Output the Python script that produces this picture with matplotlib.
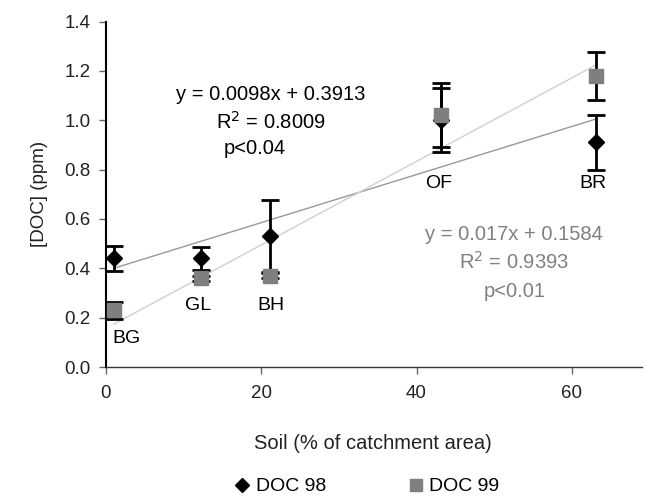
import numpy as np
import matplotlib.pyplot as plt

plt.rcParams['font.family'] = ['Liberation Sans', 'DejaVu Sans']

# Soil cover (% of catchment area) for each site
sites = ['BG', 'GL', 'BH', 'OF', 'BR']
soil = [1, 12.3, 21.1, 43.1, 63.1]

# DOC concentrations (ppm) and error bars
doc98 = [0.44, 0.44, 0.53, 1.00, 0.91]
err98 = [0.05, 0.045, 0.145, 0.13, 0.11]
doc99 = [0.23, 0.36, 0.37, 1.02, 1.18]
err99 = [0.035, 0.01, 0.01, 0.13, 0.097]

eq98 = "y = 0.0098x + 0.3913\nR$^2$ = 0.8009"
eq99 = "y = 0.017x + 0.1584\nR$^2$ = 0.9393"

fig = plt.figure(figsize=(6.45, 5), dpi=100)
ax = fig.add_axes([0.164, 0.266, 0.831, 0.691])

x = np.array(soil)

# trendlines (least squares through the points)
xs = np.array([x.min(), x.max()])
k98, b98 = np.polyfit(x, doc98, 1)
k99, b99 = np.polyfit(x, doc99, 1)
ax.plot(xs, k98 * xs + b98, color='#999999', lw=1, zorder=1)
ax.plot(xs, k99 * xs + b99, color='#d0d0d0', lw=1, zorder=1)

ax.errorbar(x, doc98, yerr=err98, fmt='D', color='black', ms=8,
            ecolor='black', elinewidth=2, capsize=6.5, capthick=2,
            zorder=3, label='DOC 98')
ax.errorbar(x, doc99, yerr=err99, fmt='s', color='#7f7f7f', ms=10,
            ecolor='black', elinewidth=2, capsize=6.5, capthick=2,
            zorder=4, label='DOC 99')

# site labels
lab_y = [0.116, 0.25, 0.25, 0.742, 0.742]
lab_dx = [1.7, -0.4, 0.2, -0.2, -0.4]
for s, xi, yi, dx in zip(sites, soil, lab_y, lab_dx):
    ax.text(xi + dx, yi, s, ha='center', va='center', fontsize=14)

ax.text(21.2, 1.046, eq98, ha='center', va='center', fontsize=14.5,
        linespacing=1.35)
ax.text(19.2, 0.886, 'p<0.04', ha='center', va='center', fontsize=14.5)
ax.text(52.6, 0.478, eq99, ha='center', va='center', fontsize=14.5,
        color='#808080', linespacing=1.35)
ax.text(52.6, 0.305, 'p<0.01', ha='center', va='center', fontsize=14.5,
        color='#808080')

ax.set_xlim(0, 69)
ax.set_ylim(0, 1.4)
ax.set_xticks([0, 20, 40, 60])
ax.set_yticks(np.arange(0, 1.41, 0.2))
ax.set_yticklabels(['%.1f' % v for v in np.arange(0, 1.41, 0.2)])
ax.tick_params(labelsize=13.5, length=5, color='#666666', width=1,
               labelcolor='#222222')
ax.tick_params(axis='y', pad=6)
ax.tick_params(axis='x', pad=8)
ax.spines['top'].set_visible(False)
ax.spines['right'].set_visible(False)
ax.spines['left'].set_linewidth(1.5)
ax.spines['bottom'].set_linewidth(1.0)
ax.spines['bottom'].set_color('#333333')

ax.set_ylabel('[DOC] (ppm)', fontsize=13.5, labelpad=12, color='#222222')
fig.text(0.578, 0.113, 'Soil (% of catchment area)', ha='center',
         va='center', fontsize=14.5, color='#222222')

labels = ['DOC 98', 'DOC 99']
handles = [plt.Line2D([], [], marker='D', color='black', ls='', ms=7),
           plt.Line2D([], [], marker='s', color='#7f7f7f', ls='', ms=9)]
fig.legend(handles, labels, loc='center', bbox_to_anchor=(0.566, 0.027),
           ncol=2, frameon=False, fontsize=14, handletextpad=0.1,
           columnspacing=4.0, handlelength=1.2)

fig.savefig('out.png', dpi=100)
